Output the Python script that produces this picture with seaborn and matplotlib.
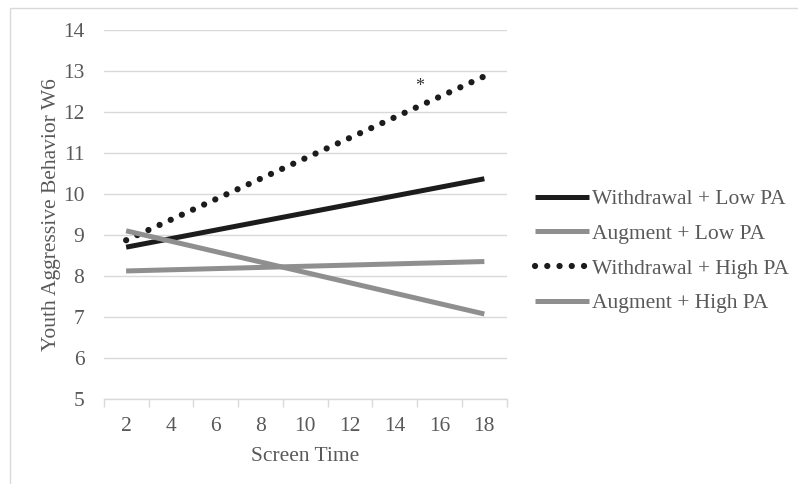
import numpy as np
import pandas as pd
import seaborn as sns
import matplotlib.pyplot as plt
from matplotlib.patches import Rectangle

# screen time values (x) and predicted aggression at each end
screen_time = [2, 18]
withdrawal_low = [8.70, 10.37]
augment_low = [8.12, 8.35]
withdrawal_high = [8.87, 12.87]
augment_high = [9.10, 7.07]

labels = ["Withdrawal + Low PA", "Augment + Low PA",
          "Withdrawal + High PA", "Augment + High PA"]
x_ticks = [2, 4, 6, 8, 10, 12, 14, 16, 18]

sns.set_theme(style="white")
plt.rcParams['font.family'] = ['Liberation Serif', 'DejaVu Serif']

txt = "#595959"
black = "#1c1c1c"
gray = "#8f8f8f"
fs = 15.5

fig = plt.figure(figsize=(7.98, 4.84), dpi=100)
ax = fig.add_axes([0.130, 0.176, 0.505, 0.762])

series = [withdrawal_low, augment_low, withdrawal_high, augment_high]
colors = [black, gray, black, gray]
for vals, lab, col in zip(series, labels, colors):
    df = pd.DataFrame({"x": screen_time, "y": vals})
    sns.lineplot(data=df, x="x", y="y", ax=ax, color=col, lw=3.6, label=lab)

lines = ax.get_lines()
lines[2].set_linewidth(4.5)
lines[2].set_linestyle((0, (0.01, 1.95)))
lines[2].set_dash_capstyle("round")
for ln in lines:
    ln.set_solid_capstyle("butt")

ax.set_xlim(1, 19)
ax.set_ylim(5, 14)
ax.set_yticks(range(5, 15))
ax.yaxis.grid(True, color="#d9d9d9", lw=1)
ax.set_axisbelow(True)
for s in ["top", "right", "left"]:
    ax.spines[s].set_visible(False)
ax.spines["bottom"].set_color("#d9d9d9")
ax.spines["bottom"].set_linewidth(1)

# category style: labels centered, tick marks between
ax.set_xticks(x_ticks)
ax.set_xticklabels([str(v) for v in x_ticks])
ax.set_xticks(np.arange(1, 20, 2), minor=True)
ax.tick_params(axis="x", which="major", length=0, pad=13, labelsize=fs, labelcolor=txt)
ax.tick_params(axis="x", which="minor", length=6, width=1, color="#d9d9d9", bottom=True)
ax.tick_params(axis="y", length=0, pad=14, labelsize=fs, labelcolor=txt)

ax.set_xlabel("Screen Time", fontsize=fs, color=txt, labelpad=8)
ax.set_ylabel("Youth Aggressive Behavior W6", fontsize=fs, color=txt, labelpad=1)

ax.text(15.1, 12.62, "*", fontsize=13, color="#333333", ha="center", va="center")

leg = ax.legend(loc="center left", bbox_to_anchor=(1.05, 0.40), frameon=False,
                fontsize=fs, handlelength=2.5, handletextpad=0.12,
                labelspacing=0.68, borderaxespad=0)
for t in leg.get_texts():
    t.set_color(txt)

fig.patches.append(Rectangle((10 / 798, -0.1), 1.2, 0.1 + 1 - 8 / 484,
                             transform=fig.transFigure, fill=False,
                             edgecolor="#d9d9d9", lw=1))

fig.savefig("out.png", dpi=100)
